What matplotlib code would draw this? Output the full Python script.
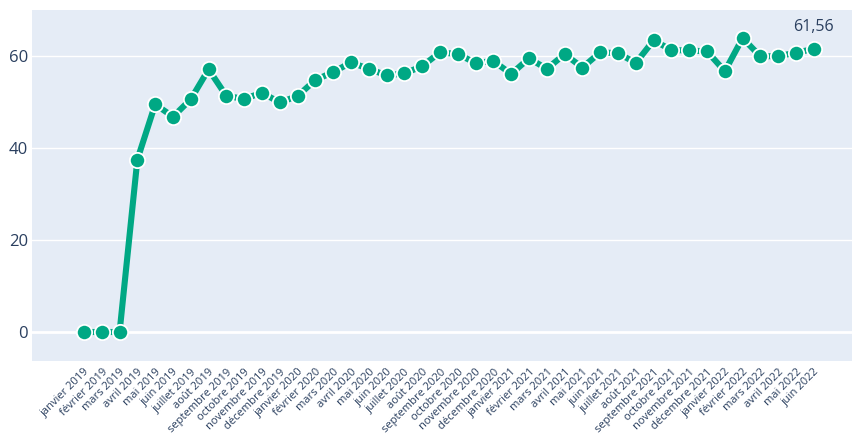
import matplotlib
matplotlib.use("Agg")
import matplotlib.pyplot as plt

months = ["janvier", "février", "mars", "avril", "mai", "juin", "juillet",
          "août", "septembre", "octobre", "novembre", "décembre"]
labels = [f"{m} {y}" for y in (2019, 2020, 2021) for m in months] + \
         [f"{m} 2022" for m in months[:6]]

values = [0, 0, 0, 37.5, 49.5, 46.8, 50.6, 57.1, 51.3, 50.7, 52.0, 49.9,
          51.3, 54.8, 56.5, 58.6, 57.2, 55.8, 56.2, 57.8, 60.8, 60.4,
          58.5, 58.9, 56.1, 59.5, 57.2, 60.4, 57.5, 60.8, 60.6, 58.5,
          63.4, 61.3, 61.2, 61.0, 56.7, 63.9, 59.9, 60.0, 60.7, 61.56]

last_label = "61,56"

BG = "#E5ECF6"
GREEN = "#00A884"
TEXT = "#2A3F5F"

plt.rcParams["font.family"] = ["Open Sans", "DejaVu Sans"]

fig = plt.figure(figsize=(8.53, 4.37), dpi=100)
ax = fig.add_axes([32 / 853, 1 - 361 / 437, 1 - 32 / 853, (361 - 10) / 437])
ax.set_facecolor(BG)

x = list(range(len(values)))
ax.plot(x, values, color=GREEN, lw=4.4, solid_capstyle="butt", zorder=3,
        marker="o", markersize=11, markerfacecolor=GREEN,
        markeredgecolor="white", markeredgewidth=1.3)

ax.annotate(last_label, (x[-1], values[-1]), xytext=(0, 10),
            textcoords="offset points", ha="center", va="bottom",
            fontsize=11.5, color=TEXT, zorder=4)

ax.set_xlim(-2.92, 43.2)
ax.set_ylim(-6.3, 70)
ax.set_yticks([0, 20, 40, 60])
for yv in (20, 40, 60):
    ax.axhline(yv, color="white", lw=1.0, zorder=1)
ax.axhline(0, color="white", lw=2.0, zorder=1)
ax.grid(False)

ax.set_xticks(x)
ax.set_xticklabels(labels, rotation=45, ha="right", rotation_mode="anchor",
                   fontsize=8.0, color=TEXT)
ax.tick_params(axis="x", length=0, pad=4)
ax.tick_params(axis="y", length=0, pad=3, labelsize=12, labelcolor=TEXT)
for s in ax.spines.values():
    s.set_visible(False)

fig.savefig("out.png", dpi=100, facecolor="white")
